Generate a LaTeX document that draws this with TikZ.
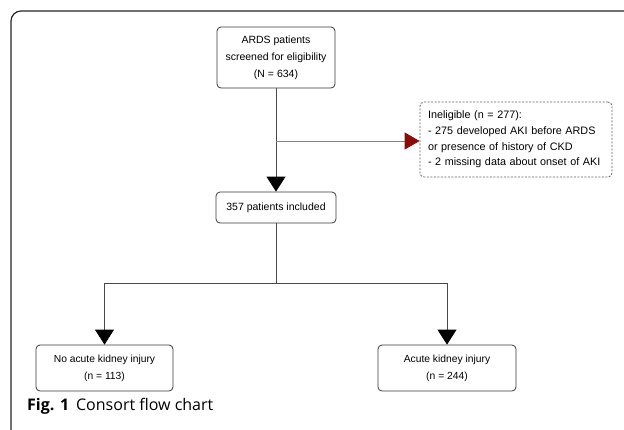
\documentclass[tikz,border=0pt]{standalone}
\usepackage{fontspec}
\setmainfont{Liberation Sans}
\newfontfamily\capfont{Open Sans}
\usetikzlibrary{arrows.meta}
\definecolor{boxline}{HTML}{3A3A3A}
\definecolor{conn}{HTML}{4A4A4A}
\definecolor{darkred}{HTML}{8B0A0A}
\definecolor{redline}{HTML}{C46A6A}
\begin{document}
\begin{tikzpicture}[x=1pt,y=-1pt,
  flowbox/.style={draw=boxline, line width=0.8pt, rounded corners=4pt, align=center, inner sep=0pt},
  conline/.style={draw=conn, line width=0.8pt},
  blackarrow/.style={conline, -{Triangle[width=19pt,length=15pt,color=black]}},
  redarrow/.style={draw=redline, line width=0.9pt, -{Triangle[width=17pt,length=15pt,color=darkred]}}
]
\useasboundingbox (0,0) rectangle (624,429);
\fill[white] (0,0) rectangle (624,429);
% outer frame
\draw[line width=1.2pt, black!85, rounded corners=10pt] (11,440) -- (11,11) -- (640,11);

% boxes
\node[flowbox, minimum width=118pt, minimum height=61pt, font=\fontsize{10.5}{17}\selectfont] (screen) at (276,57.5) {ARDS patients\\screened for eligibility\\(N = 634)};
\node[flowbox, minimum width=120pt, minimum height=31pt, font=\fontsize{10.5}{17}\selectfont] (incl) at (276,207.5) {357 patients included};
\node[flowbox, draw=boxline!80, dashed, dash pattern=on 2pt off 1.5pt, minimum width=192pt, minimum height=75pt, text width=176pt, align=left, font=\fontsize{10.8}{15.6}\selectfont] (inel) at (516,139.5) {Ineligible (n = 277):\\- 275 developed AKI before ARDS\\or presence of history of CKD\\- 2 missing data about onset of AKI};
\node[flowbox, minimum width=137pt, minimum height=46pt, font=\fontsize{10.3}{17}\selectfont] (noaki) at (104.5,368) {No acute kidney injury\\(n = 113)};
\node[flowbox, minimum width=138pt, minimum height=46pt, font=\fontsize{10.3}{17}\selectfont] (aki) at (447,368) {Acute kidney injury\\(n = 244)};

% connectors
\coordinate (branch) at (276,141);
\coordinate (split) at (276,283);
\draw[conline] (screen.south) -- (branch);
\draw[blackarrow] (branch) -- (incl.north);
\draw[redarrow] (branch) -- (inel.west |- branch);
\draw[conline] (incl.south) -- (split);
\draw[blackarrow] (split) -| (noaki.north);
\draw[blackarrow] (split) -| (aki.north);

% caption
\node[anchor=base west, inner sep=0pt, font=\capfont\fontsize{16}{18}\selectfont] (cap) at (27,410) {\textbf{Fig. 1}\hspace{7pt}Consort flow chart};
\end{tikzpicture}
\end{document}
